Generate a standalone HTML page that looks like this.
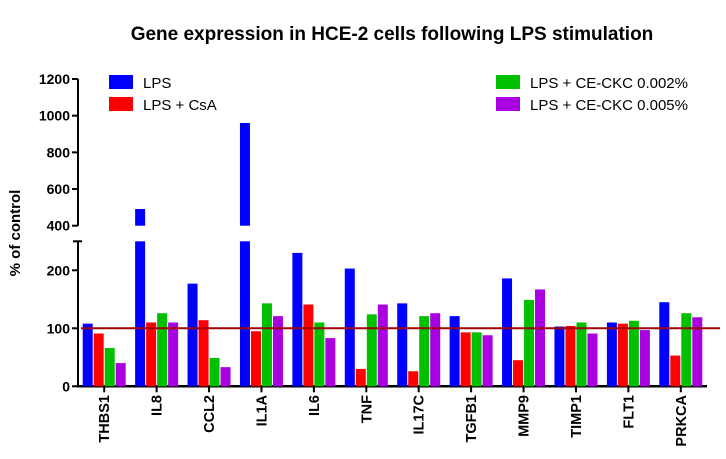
<!DOCTYPE html>
<html><head><meta charset="utf-8"><style>
body{margin:0;background:#fff;}
svg text{font-family:"Liberation Sans",Arial,sans-serif;}
</style></head><body>
<svg id="chart" width="726" height="454" viewBox="0 0 726 454">
<text x="392" y="40" text-anchor="middle" font-size="19" font-weight="bold">Gene expression in HCE-2 cells following LPS stimulation</text>
<text transform="translate(20,233) rotate(-90)" text-anchor="middle" font-size="15" font-weight="bold">% of control</text>
<g id="axes"></g>
<g id="bars"></g>
<g id="legend"></g>
</svg>
<script>
const categories=["THBS1","IL8","CCL2","IL1A","IL6","TNF","IL17C","TGFB1","MMP9","TIMP1","FLT1","PRKCA"];
const seriesNames=["LPS","LPS + CsA","LPS + CE-CKC 0.002%","LPS + CE-CKC 0.005%"];
const lps=[108,491,177,960,230,203,143,121,186,103,110,145];
const csa=[91,110,114,95,141,30,26,93,45,104,108,53];
const ckc002=[66,126,49,143,110,124,121,93,149,110,113,126];
const ckc005=[40,110,33,121,83,141,126,88,167,91,97,119];
const lowerTicks=[0,100,200];
const upperTicks=[400,600,800,1000,1200];
const colors=["#0000ff","#ff0000","#00c000","#a800e0"];
const NS="http://www.w3.org/2000/svg";
function mk(tag,attrs,parent){const e=document.createElementNS(NS,tag);for(const k in attrs)e.setAttribute(k,attrs[k]);parent.appendChild(e);return e;}
const x0=78,x1=707,groupW=(x1-x0)/categories.length;
const lowMax=250,lowY0=386.3,lowY1=241.3;
const upMin=400,upMax=1200,upY0=225.7,upY1=79;
function yLow(v){return lowY0-(Math.min(v,lowMax))/lowMax*(lowY0-lowY1);}
function yUp(v){return upY0-(v-upMin)/(upMax-upMin)*(upY0-upY1);}
const axes=document.getElementById('axes'),bars=document.getElementById('bars'),legend=document.getElementById('legend');
let a=mk('line',{x1:x0,y1:lowY1,x2:x0,y2:lowY0+1,stroke:'#000','stroke-width':2},axes);

a=mk('line',{x1:x0,y1:upY1,x2:x0,y2:upY0,stroke:'#000','stroke-width':2},axes);

a=mk('line',{x1:x0-5,y1:lowY1,x2:x0+4,y2:lowY1,stroke:'#000','stroke-width':2},axes);

a=mk('line',{x1:x0-1,y1:lowY0,x2:x1,y2:lowY0,stroke:'#000','stroke-width':2.5},axes);

function tick(v,y){
 const t=mk('line',{x1:x0-6,y1:y,x2:x0,y2:y,stroke:'#000','stroke-width':2},axes);
 
 const l=mk('text',{x:x0-8,y:y+5,'text-anchor':'end','font-size':14,'font-weight':'bold'},axes);
 l.textContent=v;
 
}
lowerTicks.forEach(v=>tick(v,yLow(v)));
upperTicks.forEach(v=>tick(v,yUp(v)));
const series=[lps,csa,ckc002,ckc005];
const bw=10,gap=1;
categories.forEach((c,i)=>{
 const cx=x0+groupW*(i+0.5);
 const start=cx-(4*bw+3*gap)/2;
 series.forEach((s,j)=>{
  const v=s[i],bx=start+j*(bw+gap);
  const r=mk('rect',{x:bx,y:yLow(v),width:bw,height:lowY0-yLow(v),fill:colors[j]},bars);
  
  
  if(v>upMin){
   const r2=mk('rect',{x:bx,y:yUp(v),width:bw,height:upY0-yUp(v),fill:colors[j]},bars);
   
   
  }
 });
 const t=mk('line',{x1:cx,y1:lowY0,x2:cx,y2:lowY0+6,stroke:'#000','stroke-width':2},axes);
 
 const l=mk('text',{transform:`translate(${cx+5},395) rotate(-90)`,'text-anchor':'end','font-size':14.5,'font-weight':'bold'},axes);
 l.textContent=c;
 
});
const ref=mk('line',{x1:81,y1:yLow(100),x2:720,y2:yLow(100),stroke:'#a00000','stroke-width':2},bars);

const legPos=[[109,75],[109,97],[496,75],[496,97]];
seriesNames.forEach((n,j)=>{
 const [lx,ly]=legPos[j];
 const s=mk('rect',{x:lx,y:ly,width:24,height:14,fill:colors[j]},legend);
 
 const t=mk('text',{x:lx+34,y:ly+13,'font-size':15},legend);
 t.textContent=n;
 
});
</script>
</body></html>
